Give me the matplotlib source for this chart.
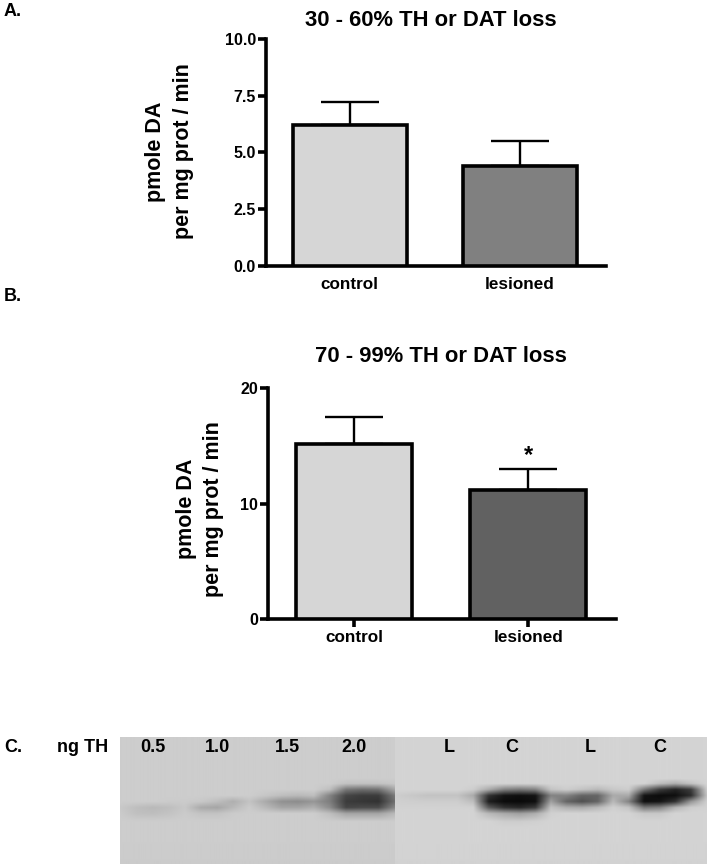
import numpy as np
import matplotlib
matplotlib.use('Agg')
import matplotlib.pyplot as plt

plt.rcParams['font.family'] = ['Liberation Sans', 'DejaVu Sans']
plt.rcParams['font.weight'] = 'bold'

W, H = 707, 868

# panel data
groups = ['control', 'lesioned']
a_means = [6.2, 4.4]
a_tops = [7.2, 5.5]
a_colors = ['#d6d6d6', '#808080']
a_ticks = [0.0, 2.5, 5.0, 7.5, 10.0]
b_means = [15.1, 11.2]
b_tops = [17.5, 13.0]
b_colors = ['#d6d6d6', '#616161']
b_ticks = [0, 10, 20]

# blot grey levels
blot_rows = [737, 779, 784, 790, 796, 802, 808, 814, 822, 829, 864]
blot_left = [
    [205] * 18,
    [205] * 18,
    [205] * 14 + [195, 195, 195, 200],
    [205] * 13 + [190, 120, 110, 115, 165],
    [205, 205, 205, 205, 205, 205, 205, 205, 205, 198, 190, 185, 190, 130, 70, 60, 60, 120],
    [205, 205, 205, 203, 203, 200, 190, 175, 195, 170, 145, 140, 150, 125, 60, 55, 50, 110],
    [200, 190, 185, 190, 200, 170, 165, 185, 203, 185, 165, 165, 175, 140, 70, 75, 75, 135],
    [203, 192, 190, 195, 203, 195, 195, 203, 205, 205, 205, 205, 205, 190, 165, 165, 165, 185],
    [205] * 18,
    [205] * 18,
    [203] * 18,
]
blot_right = [
    [212] * 21,
    [212] * 21,
    [212] * 17 + [190, 175, 195, 212],
    [212, 212, 212, 212, 212, 205, 170, 130, 120, 130, 195, 205, 195, 185, 200, 205, 120, 60, 35, 60, 200],
    [205, 200, 195, 195, 195, 170, 50, 20, 15, 20, 130, 130, 100, 100, 170, 170, 20, 12, 15, 45, 190],
    [208, 206, 205, 205, 205, 190, 30, 12, 10, 15, 160, 100, 80, 100, 185, 130, 15, 20, 50, 150, 205],
    [210, 210, 210, 210, 210, 210, 90, 50, 40, 60, 195, 175, 170, 185, 208, 195, 120, 130, 180, 205, 210],
    [212, 212, 212, 212, 212, 212, 185, 170, 160, 175, 208, 212, 212, 212, 212, 212, 200, 200, 212, 212, 212],
    [212, 212, 212, 212, 212, 212, 212, 205, 205, 208, 212, 212, 212, 212, 212, 212, 212, 212, 212, 212, 212],
    [212] * 21,
    [210] * 21,
]
lane_labels = ['0.5', '1.0', '1.5', '2.0', 'L', 'C', 'L', 'C']
lane_x = [153, 218, 287, 354, 449, 512, 590, 660]

fig = plt.figure(figsize=(W / 100, H / 100), dpi=100)


def px_axes(x0, y0, x1, y1):
    # pixel box, y counted from the top
    return fig.add_axes([x0 / W, 1 - y1 / H, (x1 - x0) / W, (y1 - y0) / H])


def px_text(x, y, s, **kw):
    kw.setdefault('ha', 'center')
    kw.setdefault('va', 'center')
    fig.text(x / W, 1 - y / H, s, **kw)


def bar_panel(box, means, tops, colors, ticks, ylim, fmt, xticks):
    ax = px_axes(*box)
    xs = [1, 2]
    ax.bar(xs, means, width=0.67, color=colors, edgecolor='black', linewidth=2.6, zorder=3)
    for x, m, t in zip(xs, means, tops):
        ax.errorbar(x, m, yerr=[[0], [t - m]], color='black', elinewidth=1.7,
                    capsize=21, capthick=1.7, zorder=2)
    ax.set_xlim(0.505, 2.505)
    ax.set_ylim(*ylim)
    for s in ['top', 'right']:
        ax.spines[s].set_visible(False)
    for s in ['left', 'bottom']:
        ax.spines[s].set_linewidth(2.6)
    ax.set_yticks(ticks)
    ax.set_yticklabels([fmt % t for t in ticks], fontsize=11.5)
    ax.tick_params(axis='y', length=6, width=2.6, pad=1)
    ax.set_xticks(xs)
    ax.set_xticklabels(groups, fontsize=12.3)
    ax.tick_params(axis='x', length=6 if xticks else 0, width=2.6, pad=2 if xticks else 8)
    return ax


bar_panel((265.7, 39, 605.7, 265.7), a_means, a_tops, a_colors, a_ticks, (0, 10), '%.1f', False)
ax_b = bar_panel((268, 387.7, 616, 619.3), b_means, b_tops, b_colors, b_ticks, (0, 20), '%d', True)
ax_b.annotate('*', (2, b_tops[1]), xytext=(0, 1), textcoords='offset points',
              ha='center', va='bottom', fontsize=17)

px_text(431, 20, '30 - 60% TH or DAT loss', fontsize=15.8)
px_text(441, 356, '70 - 99% TH or DAT loss', fontsize=15.8)

px_text(156, 152, 'pmole DA', rotation=90, fontsize=15.5)
px_text(183, 151, 'per mg prot / min', rotation=90, fontsize=15.5)
px_text(187, 509, 'pmole DA', rotation=90, fontsize=15.5)
px_text(214, 509, 'per mg prot / min', rotation=90, fontsize=15.5)

px_text(4, 11, 'A.', ha='left', fontsize=13)
px_text(4, 296, 'B.', ha='left', fontsize=13)
px_text(4, 748, 'C.', ha='left', fontsize=13)
px_text(83, 747, 'ng TH', fontsize=13)


# blot: two spliced pieces of the scan
def blot_piece(grid, x0, x1):
    grid = np.array(grid, dtype=float)
    ys = np.arange(blot_rows[0], blot_rows[-1] + 1)
    xs_in = np.linspace(x0, x1, grid.shape[1])
    xs = np.arange(x0, x1 + 1)
    by_col = np.array([np.interp(ys, blot_rows, grid[:, j]) for j in range(grid.shape[1])]).T
    img = np.array([np.interp(xs, xs_in, row) for row in by_col])
    ax = px_axes(x0, blot_rows[0], x1, blot_rows[-1])
    ax.imshow(img, cmap='gray', vmin=0, vmax=255, aspect='auto', interpolation='bicubic')
    ax.axis('off')


blot_piece(blot_left, 120, 395)
blot_piece(blot_right, 395, 707)

for x, s in zip(lane_x, lane_labels):
    px_text(x, 747, s, fontsize=13, zorder=5)

fig.savefig('out.png', dpi=100)
